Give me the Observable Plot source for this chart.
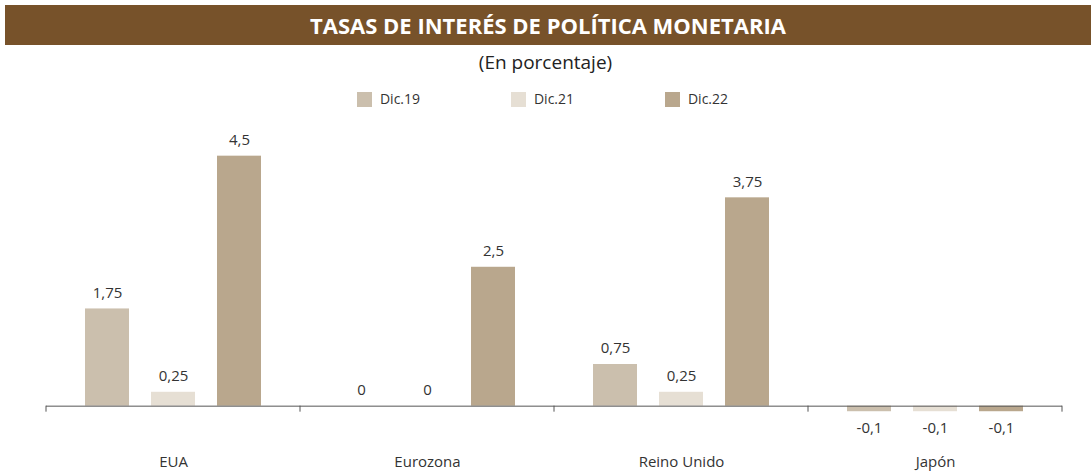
<!DOCTYPE html>
<html>
<head>
<meta charset="utf-8">
<script src="https://cdn.jsdelivr.net/npm/d3@7"></script>
<script src="https://cdn.jsdelivr.net/npm/@observablehq/plot@0.6"></script>
<style>
  body { margin: 0; background: white; font-family: "Open Sans", sans-serif; color: #333; }
  #wrap { position: relative; width: 1091px; height: 471px; overflow: hidden; }
  #title { position: absolute; left: 5px; top: 5px; width: 1086px; height: 40px; background: #77522A; color: white;
           font-weight: bold; font-size: 22px; line-height: 40px; text-align: center; }
  #subtitle { position: absolute; left: 0; top: 49px; width: 1091px; text-align: center; font-size: 19px; line-height: 26px; color: #222; }
  #legend { position: absolute; left: 0; top: 89px; width: 1091px; display: flex; justify-content: center; font-size: 14px; line-height: 20px; color: #333; padding-right: 6px; box-sizing: border-box; }
  .item { display: flex; align-items: center; }
  .item .sw { width: 15px; height: 15px; margin-right: 8px; }
  #chart { position: absolute; left: 0; top: 115px; }
</style>
</head>
<body>
<div id="wrap">
  <div id="title">TASAS DE INTERÉS DE POLÍTICA MONETARIA</div>
  <div id="subtitle">(En porcentaje)</div>
  <div id="legend"></div>
  <div id="chart"></div>
</div>
<script>
const countries = ["EUA", "Eurozona", "Reino Unido", "Japón"];
const series = ["Dic.19", "Dic.21", "Dic.22"];
const dic19 = [1.75, 0, 0.75, -0.1];
const dic21 = [0.25, 0, 0.25, -0.1];
const dic22 = [4.5, 2.5, 3.75, -0.1];
const colors = ["#CBBFAD", "#E6DFD4", "#B9A78D"];

const seriesValues = [dic19, dic21, dic22];
const data = [];
countries.forEach((c, i) => {
  series.forEach((s, j) => data.push({country: c, series: s, value: seriesValues[j][i]}));
});
const fmt = v => String(v).replace(".", ",");

// legend
const legend = document.getElementById("legend");
series.forEach((s, j) => {
  const it = document.createElement("div");
  it.className = "item";
  if (j < series.length - 1) it.style.width = "154px";
  const sw = document.createElement("div");
  sw.className = "sw";
  sw.style.background = colors[j];
  const t = document.createElement("span");
  t.textContent = s;
  it.appendChild(sw); it.appendChild(t);
  legend.appendChild(it);
});

const plot = Plot.plot({
  width: 1091,
  height: 356,
  marginLeft: 45,
  marginRight: 28,
  marginTop: 24,
  marginBottom: 32,
  style: {fontFamily: "Open Sans, sans-serif", fontSize: "15px", color: "#333", background: "white"},
  fx: {domain: countries, padding: 0, label: null, axis: "bottom", tickSize: 0, tickPadding: 17},
  x: {domain: series, paddingInner: 0.338, paddingOuter: 0.583, axis: null},
  y: {domain: [-0.6, 4.8], axis: null},
  color: {domain: series, range: colors},
  marks: [
    Plot.barY(data, {fx: "country", x: "series", y: "value", fill: "series"}),
    Plot.ruleY([0], {stroke: "#555", strokeWidth: 1}),
    Plot.text(data.filter(d => d.value >= 0), {fx: "country", x: "series", y: "value", text: d => fmt(d.value), dy: -16, fill: "#333", fontSize: 15}),
    Plot.text(data.filter(d => d.value < 0), {fx: "country", x: "series", y: "value", text: d => fmt(d.value), dy: 16, fill: "#333", fontSize: 15})
  ]
});
document.getElementById("chart").appendChild(plot);

// boundary tick marks between groups, positioned with the plot's own scales
const fx = plot.scale("fx");
const y = plot.scale("y");
const y0 = y.apply(0);
const bounds = countries.map(c => fx.apply(c));
bounds.push(fx.apply(countries[countries.length - 1]) + fx.bandwidth);
const svg = d3.select(plot);
svg.append("g").selectAll("line").data(bounds).join("line")
  .attr("x1", d => d).attr("x2", d => d)
  .attr("y1", y0).attr("y2", y0 + 6)
  .attr("stroke", "#555").attr("stroke-width", 1);
</script>
</body>
</html>
